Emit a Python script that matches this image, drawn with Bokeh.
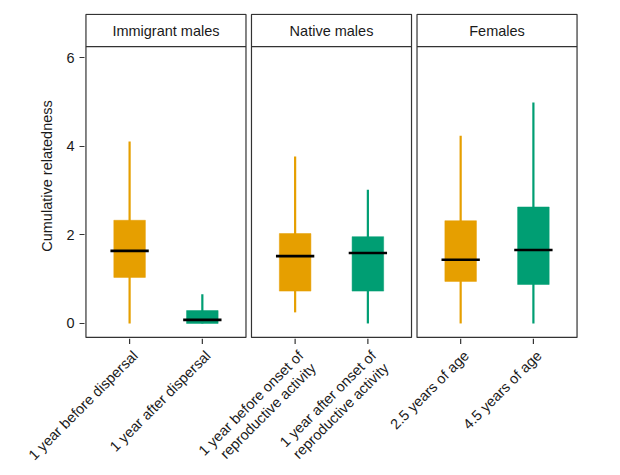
import math
from bokeh.plotting import figure
from bokeh.models import Range1d, FixedTicker, ColumnDataSource
from bokeh.embed import file_html
from bokeh.resources import INLINE
from bokeh.core.properties import value

# ---- data ----
panels = ["Immigrant males", "Native males", "Females"]
labels = ["1 year before dispersal", "1 year after dispersal",
          "1 year before onset of\nreproductive activity",
          "1 year after onset of\nreproductive activity",
          "2.5 years of age", "4.5 years of age"]
panel_of = [0, 0, 1, 1, 2, 2]
slot = [0, 1, 0, 1, 0, 1]
lower = [0.00, 0.00, 0.25, 0.00, 0.00, 0.00]
q1 = [1.04, 0.00, 0.73, 0.73, 0.95, 0.88]
median = [1.64, 0.08, 1.52, 1.59, 1.44, 1.66]
q3 = [2.33, 0.29, 2.03, 1.96, 2.32, 2.63]
upper = [4.11, 0.66, 3.77, 3.02, 4.24, 4.99]
colors = ["#E69F00", "#009E73", "#E69F00", "#009E73", "#E69F00", "#009E73"]
y_ticks = [0, 2, 4, 6]

# ---- layout ----
W = 2.2          # panel width (two categories, 0.6 expansion)
G = 0.0756       # gap between panels
Y0, YS, YT = -0.316, 6.25, 6.98   # panel bottom, strip bottom, strip top
YLO, YHI = -0.34, 7.0
XLO, XHI = -0.02, 3 * W + 2 * G + 0.02
FIG_W = 612
LEFT, RIGHT, TOP = 84, 34, 13
FRAME_H = 325
FRAME_W = FIG_W - LEFT - RIGHT
PXU = FRAME_W / (XHI - XLO)       # pixels per x unit
LAB_H = 124                        # height of the label strip below
FONT = "Liberation Sans"
INK = "#333333"
TXT = "#1a1a1a"

pleft = [k * (W + G) for k in range(len(panels))]
xs = [pleft[p] + 0.6 + s for p, s in zip(panel_of, slot)]

p = figure(width=FIG_W, height=TOP + FRAME_H, output_backend="svg",
           toolbar_location=None, x_axis_location=None,
           x_range=Range1d(XLO, XHI), y_range=Range1d(YLO, YHI),
           min_border_left=LEFT, min_border_right=RIGHT, min_border_top=TOP,
           min_border_bottom=0)
p.outline_line_color = None
p.xgrid.visible = False
p.ygrid.visible = False

# panels and strips
p.quad(left=pleft, right=[l + W for l in pleft], bottom=[Y0] * 3, top=[YT] * 3,
       fill_color=None, line_color=INK, line_width=1.2)
p.segment(x0=pleft, x1=[l + W for l in pleft], y0=[YS] * 3, y1=[YS] * 3,
          line_color=INK, line_width=1.2)
p.text(x=[l + W / 2 for l in pleft], y=[(YS + YT) / 2] * 3, text=panels,
       text_align="center", text_baseline="middle", text_font=value(FONT),
       text_font_size="14.5px", text_color=TXT)

src = ColumnDataSource(dict(x=xs, lower=lower, q1=q1, med=median, q3=q3,
                            upper=upper, color=colors,
                            mx0=[x - 0.2635 for x in xs],
                            mx1=[x + 0.2635 for x in xs]))
p.segment(x0="x", x1="x", y0="lower", y1="upper", line_color="color",
          line_width=2.2, source=src)
p.vbar(x="x", width=0.434, bottom="q1", top="q3", fill_color="color",
       line_color="color", line_width=0.5, source=src)
p.segment(x0="mx0", x1="mx1", y0="med", y1="med", line_color="black",
          line_width=2.6, source=src)

# y axis
p.yaxis.ticker = FixedTicker(ticks=y_ticks)
p.yaxis.axis_line_color = None
p.yaxis.major_tick_out = 5
p.yaxis.major_tick_in = 0
p.yaxis.major_tick_line_color = INK
p.yaxis.minor_tick_line_color = None
p.yaxis.major_label_text_font = FONT
p.yaxis.major_label_text_font_size = "14.5px"
p.yaxis.major_label_text_color = TXT
p.yaxis.major_label_standoff = 5
p.yaxis.axis_label = "Cumulative relatedness"
p.yaxis.axis_label_text_font = FONT
p.yaxis.axis_label_text_font_size = "14.5px"
p.yaxis.axis_label_text_font_style = "normal"
p.yaxis.axis_label_text_color = TXT
p.yaxis.axis_label_standoff = 8

# x ticks and rotated category labels: a strip sharing the same x scale
q = figure(width=FIG_W, height=LAB_H, output_backend="svg",
           toolbar_location=None, x_axis_location=None, y_axis_location=None,
           x_range=Range1d(XLO - LEFT / PXU, XHI + RIGHT / PXU),
           y_range=Range1d(0, LAB_H),
           min_border_left=0, min_border_right=0, min_border_top=0,
           min_border_bottom=0)
q.outline_line_color = None
q.xgrid.visible = False
q.ygrid.visible = False
q.segment(x0=xs, x1=xs, y0=[LAB_H] * len(xs), y1=[LAB_H - 5.5] * len(xs),
          line_color=INK, line_width=1.2)
q.text(x=xs, y=[LAB_H - 9] * len(xs), text=labels, angle=math.pi / 4,
       text_align="right", text_baseline="top", text_font=value(FONT),
       text_font_size="14.5px", text_color=TXT, text_line_height=1.1)

open("out.html", "w").write(file_html([p, q], INLINE))
